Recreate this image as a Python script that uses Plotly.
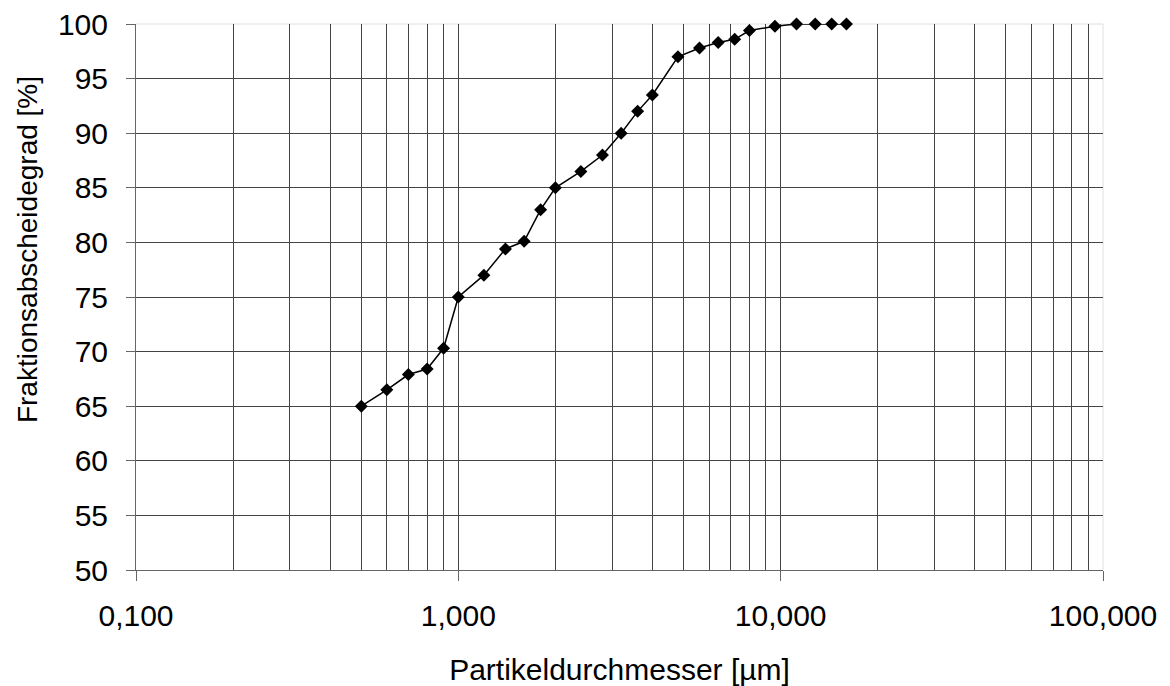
import plotly.graph_objects as go

# Data
diameter_um = [0.5, 0.6, 0.7, 0.8, 0.9, 1.0, 1.2, 1.4, 1.6, 1.8, 2.0, 2.4, 2.8, 3.2,
               3.6, 4.0, 4.8, 5.6, 6.4, 7.2, 8.0, 9.6, 11.2, 12.8, 14.4, 16.0]
efficiency_pct = [65.0, 66.5, 67.9, 68.4, 70.3, 75.0, 77.0, 79.4, 80.1, 83.0, 85.0, 86.5, 88.0, 90.0,
                  92.0, 93.5, 97.0, 97.8, 98.3, 98.6, 99.4, 99.8, 100.0, 100.0, 100.0, 100.0]

x_tickvals = [0.1, 1, 10, 100]
x_ticktext = ["0,100", "1,000", "10,000", "100,000"]
x_minor = [m * d for d in (0.1, 1, 10) for m in range(2, 10)]
y_tickvals = list(range(50, 101, 5))
y_minor = list(range(55, 100, 5))

FONT = "Liberation Sans, Arial, Helvetica, sans-serif"

fig = go.Figure()
fig.add_trace(go.Scatter(
    x=diameter_um, y=efficiency_pct, mode="lines+markers",
    line=dict(color="black", width=1.5),
    marker=dict(symbol="diamond", size=10, color="black"),
    showlegend=False, cliponaxis=False,
))

fig.update_layout(
    width=1162, height=678,
    paper_bgcolor="white", plot_bgcolor="white",
    margin=dict(l=128, r=67, t=16, b=116),
    font=dict(family=FONT, size=30, color="black"),
    xaxis=dict(
        type="log", range=[-1, 2], automargin=False,
        tickvals=x_tickvals, ticktext=x_ticktext,
        ticks="outside", ticklen=10, tickcolor="#666", tickwidth=1,
        showline=True, linecolor="#666", linewidth=1,
        showgrid=True, gridcolor="#444", gridwidth=1,
        zeroline=False, ticklabeloverflow="allow",
        ticklabelstandoff=9,
        minor=dict(tickvals=x_minor, showgrid=True, gridcolor="#444", gridwidth=1, ticks=""),
        title=dict(text="Partikeldurchmesser [µm]", font=dict(size=30), standoff=36),
    ),
    yaxis=dict(
        range=[50, 100], automargin=False,
        tickvals=y_tickvals,
        ticks="outside", ticklen=9, tickcolor="#666", tickwidth=1,
        showline=True, linecolor="#666", linewidth=1,
        showgrid=False, zeroline=False, ticklabeloverflow="allow",
        ticklabelstandoff=12,
        minor=dict(tickvals=y_minor, showgrid=True, gridcolor="#444", gridwidth=1, ticks=""),
    ),
    shapes=[
        dict(type="line", xref="paper", yref="paper", x0=0, x1=1, y0=1, y1=1,
             line=dict(color="#e0e0e0", width=1), layer="below"),
        dict(type="line", xref="paper", yref="paper", x0=1, x1=1, y0=0, y1=1,
             line=dict(color="#e0e0e0", width=1), layer="below"),
    ],
    annotations=[
        dict(text="Fraktionsabscheidegrad [%]", textangle=-90,
             xref="paper", yref="paper", x=-0.1127, y=0.586, xanchor="center", yanchor="middle",
             showarrow=False, font=dict(size=28, family=FONT, color="black")),
    ],
)

fig.write_html("out.html")
